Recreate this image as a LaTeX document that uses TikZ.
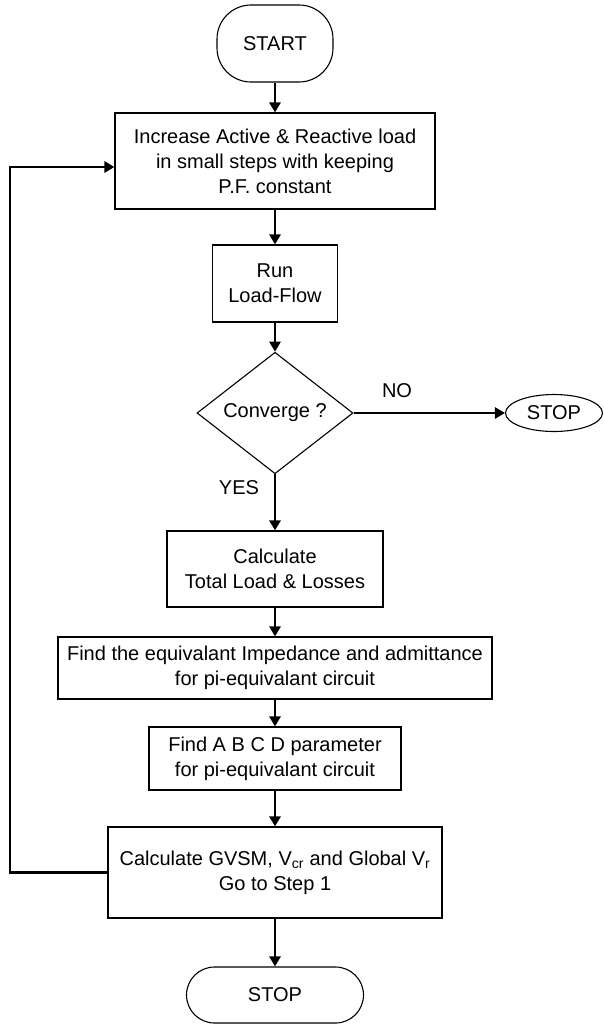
\documentclass[tikz,border=0pt]{standalone}
\usepackage{fontspec}
\setmainfont{Liberation Sans}
\usetikzlibrary{shapes.geometric,arrows.meta}

\begin{document}
\begin{tikzpicture}[x=1pt,y=-1pt,
  every node/.style={font=\fontsize{20}{25}\selectfont},
  flowbox/.style={draw, line width=1.1pt, rectangle, align=center, inner sep=0pt},
  termbox/.style={draw, line width=1.1pt, rounded corners=#1, align=center, inner sep=0pt},
  flow/.style={line width=2.8pt, -{Triangle[length=10pt,width=11pt]}}]
%\draw [help lines,step=50] (0,0) grid (604,1025);
\useasboundingbox (0,0) rectangle (604,1025);
\node [termbox=34pt, minimum width=116pt, minimum height=77pt] (start) at (275,43.5) {START};
\node [flowbox, minimum width=320pt, minimum height=96pt] (incr) at (275,161)
   {Increase Active \& Reactive load\\ in small steps with keeping\\ P.F. constant};
\node [flowbox, minimum width=125pt, minimum height=77pt] (runlf) at (275,283.5) {Run\\ Load-Flow};
\node [draw, line width=1.1pt, diamond, inner sep=0pt, minimum width=156pt, minimum height=117pt] (conv) at (275,413) {Converge ?};
\node [draw, line width=1.1pt, ellipse, inner sep=0pt, minimum width=97pt, minimum height=37pt] (stopr) at (554,413) {STOP};
\node [flowbox, minimum width=216pt, minimum height=76pt] (calc) at (275,569) {Calculate\\ Total Load \& Losses};
\node [flowbox, minimum width=434pt, minimum height=62pt] (findz) at (275,668)
   {Find the equivalant Impedance and admittance\\ for pi-equivalant circuit};
\node [flowbox, minimum width=252pt, minimum height=63pt] (findabcd) at (275,758.5)
   {Find A B C D parameter\\ for pi-equivalant circuit};
\node [flowbox, minimum width=334pt, minimum height=91pt] (gvsm) at (275,872.5)
   {Calculate GVSM, V\textsubscript{cr} and Global V\textsubscript{r}\\ Go to Step 1};
\node [termbox=28pt, minimum width=177pt, minimum height=56pt] (stop) at (275,995) {STOP};
% labels
\node (no) at (397,391) {NO};
\node (yes) at (239,488) {YES};
% arrows
\draw [flow] (start) -- (incr);
\draw [flow] (incr) -- (runlf);
\draw [flow] (runlf) -- (conv);
\draw [flow] (conv) -- (stopr);
\draw [flow] (conv) -- (calc);
\draw [flow] (calc) -- (findz);
\draw [flow] (findz) -- (findabcd);
\draw [flow] (findabcd) -- (gvsm);
\draw [flow] (gvsm) -- (stop);
\coordinate (back) at (10,167);
\draw [flow] (gvsm.west) -| (back) -- (back -| incr.west);
\end{tikzpicture}
\end{document}
